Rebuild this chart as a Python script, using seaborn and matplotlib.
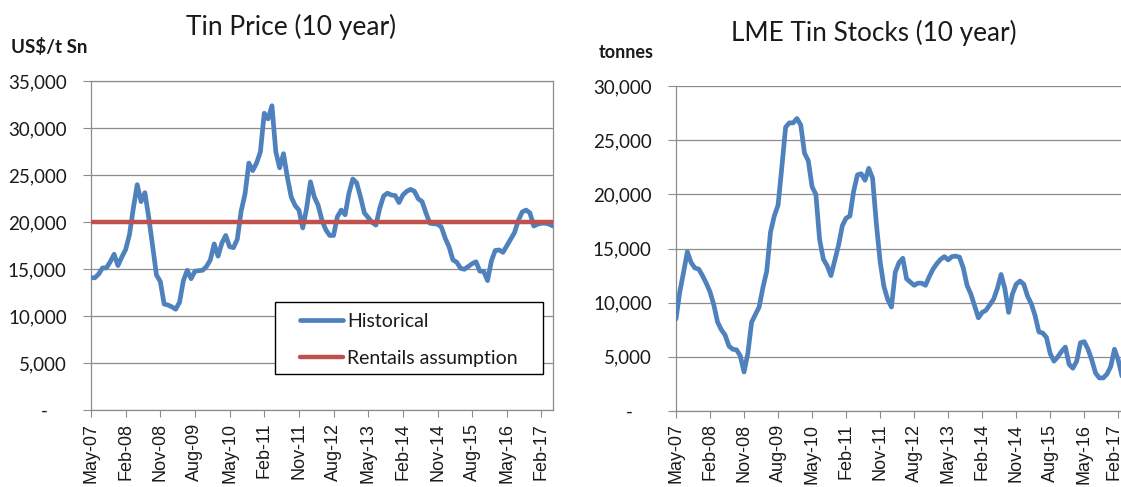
import numpy as np
import pandas as pd
import matplotlib
matplotlib.use("Agg")
import matplotlib.pyplot as plt
import matplotlib.transforms as mtransforms
from matplotlib.patches import Rectangle
import seaborn as sns

# ---------------- data ----------------
months = pd.date_range("2007-05-01", periods=121, freq="MS").strftime("%b-%y").tolist()

tin_price = [
    14100, 14100, 14500, 15150, 15150, 15800, 16600, 15400, 16300, 17100,
    18700, 21500, 24000, 22200, 23150, 20500, 17500, 14400, 13700, 11300,
    11200, 11000, 10750, 11500, 13800, 14900, 14000, 14800, 14850, 14900,
    15300, 16000, 17700, 16400, 17800, 18600, 17400, 17300, 18200, 21200,
    23000, 26300, 25500, 26300, 27500, 31600, 31000, 32400, 27500, 25800,
    27300, 24800, 22700, 21800, 21300, 19400, 21500, 24300, 22700, 21800,
    20200, 19200, 18600, 18600, 20600, 21300, 20800, 23100, 24600, 24200,
    22700, 21000, 20500, 20000, 19700, 21500, 22800, 23100, 22900, 22850,
    22100, 22900, 23300, 23500, 23300, 22500, 22200, 21000, 19900, 19850,
    19800, 19500, 18300, 17400, 16000, 15750, 15100, 15000, 15300, 15600,
    15800, 14800, 14780, 13800, 15900, 17000, 17060, 16800, 17500, 18200,
    18900, 20200, 21100, 21300, 21000, 19600, 19800, 19900, 19900, 19800,
    19600,
]
rentals_assumption = [20000] * 121

lme_stocks = [
    8500, 11000, 12800, 14700, 13700, 13200, 13100, 12500, 11800, 11000,
    9800, 8200, 7500, 7000, 6000, 5700, 5650, 5100, 3600, 5300,
    8200, 8900, 9600, 11400, 12900, 16500, 18000, 19000, 22500, 26200,
    26600, 26600, 27000, 26400, 23800, 23100, 20700, 20000, 15800, 14000,
    13400, 12500, 13900, 15300, 17100, 17800, 18000, 20300, 21800, 21900,
    21300, 22400, 21500, 17300, 13800, 11500, 10300, 9600, 12800, 13700,
    14100, 12200, 11900, 11600, 11800, 11800, 11600, 12400, 13100, 13600,
    14000, 14250, 13950, 14250, 14300, 14200, 13200, 11600, 10800, 9700,
    8600, 9100, 9300, 9800, 10300, 11300, 12600, 11300, 9100, 10800,
    11700, 12000, 11700, 10600, 9900, 8800, 7300, 7200, 6800, 5300,
    4600, 5000, 5500, 5900, 4300, 3950, 4600, 6300, 6400, 5700,
    4700, 3500, 3050, 3050, 3400, 4100, 5700, 4700, 3200, 3000,
    3000,
]

tick_step = 9
price_yticks = [0, 5000, 10000, 15000, 20000, 25000, 30000, 35000]
stock_yticks = [0, 5000, 10000, 15000, 20000, 25000, 30000]

# ---------------- style ----------------
sns.set_theme(style="white")
plt.rcParams["font.family"] = ["Lato", "DejaVu Sans"]

BLUE = "#4F81BD"
RED = "#C0504D"
GRID = "#8C8C8C"
TXT = "#1a1a1a"

W, H = 1121, 487
fig = plt.figure(figsize=(W / 100, H / 100), dpi=100)

def frac(x0, y_top, x1, y_bot):
    return [x0 / W, (H - y_bot) / H, (x1 - x0) / W, (y_bot - y_top) / H]

ax1 = fig.add_axes(frac(91, 81.3, 553, 410.3))
ax2 = fig.add_axes(frac(676, 86, 676 + 120 * 3.78, 411))

idx = np.arange(len(months))
df_price = pd.DataFrame({"idx": idx, "Historical": tin_price,
                         "Rentails assumption": rentals_assumption})
df_stock = pd.DataFrame({"idx": idx, "stocks": lme_stocks})

sns.lineplot(data=df_price, x="idx", y="Historical", ax=ax1, color=BLUE,
             lw=3.4, label="Historical", zorder=3)
sns.lineplot(data=df_price, x="idx", y="Rentails assumption", ax=ax1, color=RED,
             lw=3.2, label="Rentails assumption", zorder=4)
sns.lineplot(data=df_stock, x="idx", y="stocks", ax=ax2, color=BLUE, lw=3.4, zorder=3)

def ylab(v):
    return "-    " if v == 0 else f"{v:,}"

for ax, yt, full_frame in [(ax1, price_yticks, True), (ax2, stock_yticks, False)]:
    ax.set_xlim(0, len(months) - 1)
    ax.set_ylim(yt[0], yt[-1])
    ax.set_yticks(yt)
    ax.set_yticklabels([ylab(v) for v in yt], fontsize=13.5, color=TXT)
    xt = list(range(0, len(months), tick_step))
    ax.set_xticks(xt)
    ax.set_xticklabels([months[i] for i in xt], rotation=90, fontsize=13,
                       family=["Liberation Sans"], color=TXT)
    ax.set_xlabel("")
    ax.set_ylabel("")
    ax.grid(axis="y", color=GRID, lw=0.9)
    ax.grid(axis="x", visible=False)
    ax.set_axisbelow(True)
    ax.tick_params(axis="y", direction="out", length=5.5, width=0.8, color=GRID, pad=12, left=True)
    ax.tick_params(axis="x", direction="out", length=5, width=0.8, color=GRID, pad=4, bottom=True)
    for s in ["left", "bottom"]:
        ax.spines[s].set_color(GRID)
        ax.spines[s].set_linewidth(0.9)
    for s in ["top", "right"]:
        ax.spines[s].set_visible(full_frame)
        ax.spines[s].set_color(GRID)
        ax.spines[s].set_linewidth(0.9)
    ax.set_facecolor("white")

ax2.spines["right"].set_visible(False)

# keep the last right-hand tick label inside the figure edge
last_lbl = ax2.get_xticklabels()[-1]
last_lbl.set_transform(last_lbl.get_transform() +
                       mtransforms.ScaledTranslation(-4 / 100, 0, fig.dpi_scale_trans))

# legend box (drawn as a rectangle) + legend entries
box = Rectangle((0.398, 0.109), 0.978 - 0.398, 0.330 - 0.109, transform=ax1.transAxes,
                facecolor="white", edgecolor="black", lw=1.0, zorder=5)
ax1.add_patch(box)
leg = ax1.legend(loc="upper left", bbox_to_anchor=(0.452, 0.296),
                 fontsize=14, frameon=False, handlelength=2.2,
                 handletextpad=0.25, labelspacing=1.02, borderpad=0,
                 borderaxespad=0)
leg.set_zorder(6)
for t in leg.get_texts():
    t.set_color(TXT)

fig.text(291 / W, 1 - 27 / H, "Tin Price (10 year)", ha="center", va="center",
         fontsize=19, color=TXT)
fig.text(874 / W, 1 - 33 / H, "LME Tin Stocks (10 year)", ha="center", va="center",
         fontsize=18.8, color=TXT)
fig.text(49 / W, 1 - 47 / H, "US$/t Sn", ha="center", va="center",
         fontsize=13.5, fontweight="bold", color=TXT)
fig.text(626 / W, 1 - 52 / H, "tonnes", ha="center", va="center",
         fontsize=13, fontweight="bold", color=TXT)

fig.savefig("out.png", dpi=100, facecolor="white")
